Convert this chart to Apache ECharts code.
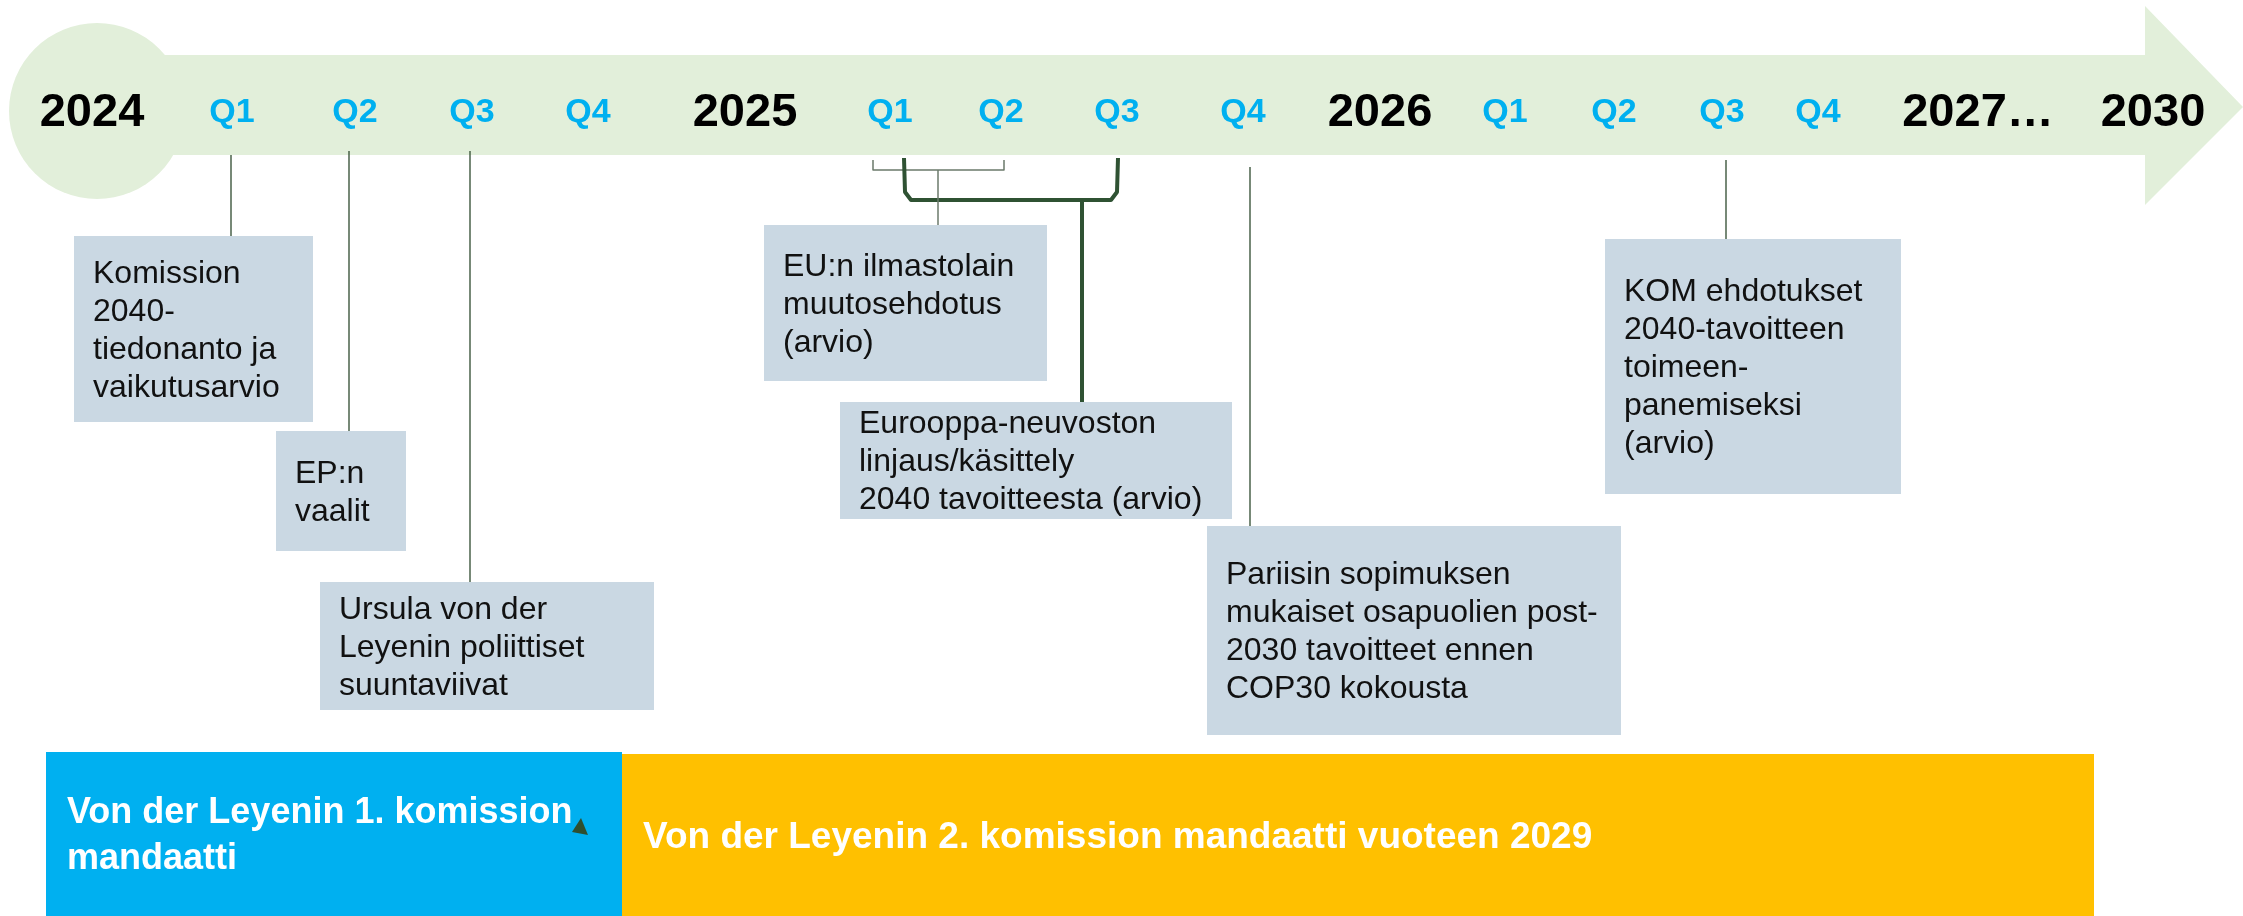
<!DOCTYPE html>
<html>
<head>
<meta charset="utf-8">
<script src="https://cdn.jsdelivr.net/npm/echarts@6/dist/echarts.min.js"></script>
<style>
  html, body { margin: 0; padding: 0; background: #fff; }
  #chart { width: 2243px; height: 916px; }
</style>
</head>
<body>
<div id="chart"></div>
<script>
// aikajanan merkinnät ja niiden paikat aikajanalla
const tickLabels = ['2024', 'Q1', 'Q2', 'Q3', 'Q4', '2025', 'Q1', 'Q2', 'Q3', 'Q4', '2026', 'Q1', 'Q2', 'Q3', 'Q4', '2027…', '2030']
const tickX = [92, 232, 355, 472, 588, 745, 890, 1001, 1117, 1243, 1380, 1505, 1614, 1722, 1818, 1978, 2153]

// tapahtumat
const eventTexts = [
  'Komission\n2040-\ntiedonanto ja\nvaikutusarvio',
  'EP:n\nvaalit',
  'Ursula von der\nLeyenin poliittiset\nsuuntaviivat',
  'EU:n ilmastolain\nmuutosehdotus\n(arvio)',
  'Eurooppa-neuvoston\nlinjaus/käsittely\n2040 tavoitteesta (arvio)',
  'Pariisin sopimuksen\nmukaiset osapuolien post-\n2030 tavoitteet ennen\nCOP30 kokousta',
  'KOM ehdotukset\n2040-tavoitteen\ntoimeen-\npanemiseksi\n(arvio)'
]
const eventX = [231, 349, 470, 938, 1082, 1250, 1726]

// komission kaudet
const mandateTexts = ['Von der Leyenin 1. komission\nmandaatti', 'Von der Leyenin 2. komission mandaatti vuoteen 2029']
const mandateStart = [46, 622]
const mandateEnd = [622, 2094]

// layout (ei dataa)
const lineTop = [155, 151, 151, 170, 200, 167, 160]
const boxes = [
  [74, 236, 239, 186],
  [276, 431, 130, 120],
  [320, 582, 334, 128],
  [764, 225, 283, 156],
  [840, 402, 392, 117],
  [1207, 526, 414, 209],
  [1605, 239, 296, 255]
]
const brackets = [
  { pts: [[873, 160], [873, 170], [1004, 170], [1004, 160]], w: 1.5, color: '#6b7a6b' },
  { pts: [[904, 158], [905, 192], [911, 200], [1111, 200], [1117, 192], [1118, 158]], w: 4, color: '#2f5233' }
]
const mandateColors = ['#00b0f0', '#ffc000']
const mandateTop = [752, 754]
const mandateFont = [36, 37]

const FONT = '"Liberation Sans", Arial, sans-serif'
const chart = echarts.init(document.getElementById('chart'))

const option = {
  animation: false,
  grid: { left: 0, right: 0, top: 0, bottom: 0 },
  xAxis: { type: 'value', min: 0, max: 2243, show: false },
  yAxis: { type: 'value', min: 0, max: 916, inverse: true, show: false },
  series: [
    {
      // vihreä nuoli
      type: 'custom',
      silent: true,
      data: [[0, 0]],
      renderItem(params, api) {
        const c = api.coord([97, 111])
        const r = api.size([88, 88])
        const a = api.coord([97, 55])
        const b = api.coord([2146, 155])
        const fill = '#e2efda'
        return {
          type: 'group',
          children: [
            { type: 'circle', shape: { cx: c[0], cy: c[1], r: r[0] }, style: { fill } },
            { type: 'rect', shape: { x: a[0], y: a[1], width: b[0] - a[0], height: b[1] - a[1] }, style: { fill } },
            {
              type: 'polygon',
              shape: { points: [api.coord([2145, 6]), api.coord([2243, 107]), api.coord([2145, 205])] },
              style: { fill }
            }
          ]
        }
      }
    },
    {
      // vuodet ja neljännekset
      type: 'custom',
      silent: true,
      data: tickX.map(x => [x, 113]),
      renderItem(params, api) {
        const label = tickLabels[params.dataIndex]
        const p = api.coord([api.value(0), api.value(1)])
        const isQ = label.startsWith('Q')
        return {
          type: 'text',
          x: p[0],
          y: p[1],
          style: {
            text: label,
            fill: isQ ? '#00b0f0' : '#000',
            font: isQ ? 'bold 34px ' + FONT : 'bold 47px ' + FONT,
            align: 'center',
            verticalAlign: 'middle'
          }
        }
      }
    },
    {
      // haarukat
      type: 'custom',
      silent: true,
      data: brackets.map(b => b.pts[0]),
      renderItem(params, api) {
        const b = brackets[params.dataIndex]
        return {
          type: 'polyline',
          shape: { points: b.pts.map(p => api.coord(p)) },
          style: { stroke: b.color, lineWidth: b.w, fill: null, lineJoin: 'round' }
        }
      }
    },
    {
      // tapahtumalaatikot
      type: 'custom',
      silent: true,
      data: eventX.map((x, i) => [x, lineTop[i]]),
      renderItem(params, api) {
        const i = params.dataIndex
        const bx = boxes[i]
        const top = api.coord([api.value(0), api.value(1)])
        const end = api.coord([api.value(0), bx[1]])
        const p0 = api.coord([bx[0], bx[1]])
        const p1 = api.coord([bx[0] + bx[2], bx[1] + bx[3]])
        const thick = i === 4
        return {
          type: 'group',
          children: [
            {
              type: 'line',
              shape: { x1: top[0], y1: top[1], x2: end[0], y2: end[1] },
              style: { stroke: thick ? '#2f5233' : (i === 3 ? '#6b7a6b' : '#2e4a2e'), lineWidth: thick ? 4 : (i === 3 ? 1.5 : 1.3) }
            },
            {
              type: 'rect',
              shape: { x: p0[0], y: p0[1], width: p1[0] - p0[0], height: p1[1] - p0[1] },
              style: { fill: '#cad8e3' }
            },
            {
              type: 'text',
              x: p0[0] + 19,
              y: (p0[1] + p1[1]) / 2 + 2,
              style: {
                text: eventTexts[i],
                fill: '#111',
                font: '32px ' + FONT,
                lineHeight: 38,
                align: 'left',
                verticalAlign: 'middle'
              }
            }
          ]
        }
      }
    },
    {
      // kaudet
      type: 'custom',
      silent: true,
      data: mandateStart.map((x, i) => [x, mandateEnd[i]]),
      renderItem(params, api) {
        const i = params.dataIndex
        const p0 = api.coord([api.value(0), mandateTop[i]])
        const p1 = api.coord([api.value(1), 916])
        const children = [
          {
            type: 'rect',
            shape: { x: p0[0], y: p0[1], width: p1[0] - p0[0], height: p1[1] - p0[1] },
            style: { fill: mandateColors[i] }
          },
          {
            type: 'text',
            x: p0[0] + 21,
            y: i === 0 ? 836 : 838,
            style: {
              text: mandateTexts[i],
              fill: '#fff',
              font: 'bold ' + mandateFont[i] + 'px ' + FONT,
              lineHeight: 46,
              align: 'left',
              verticalAlign: 'middle'
            }
          }
        ]
        if (i === 0) {
          children.push({
            type: 'polygon',
            shape: { points: [api.coord([581, 818]), api.coord([572, 832]), api.coord([588, 835])] },
            style: { fill: '#2f4f2f' }
          })
        }
        return { type: 'group', children }
      }
    }
  ]
}

chart.setOption(option)
</script>
</body>
</html>
